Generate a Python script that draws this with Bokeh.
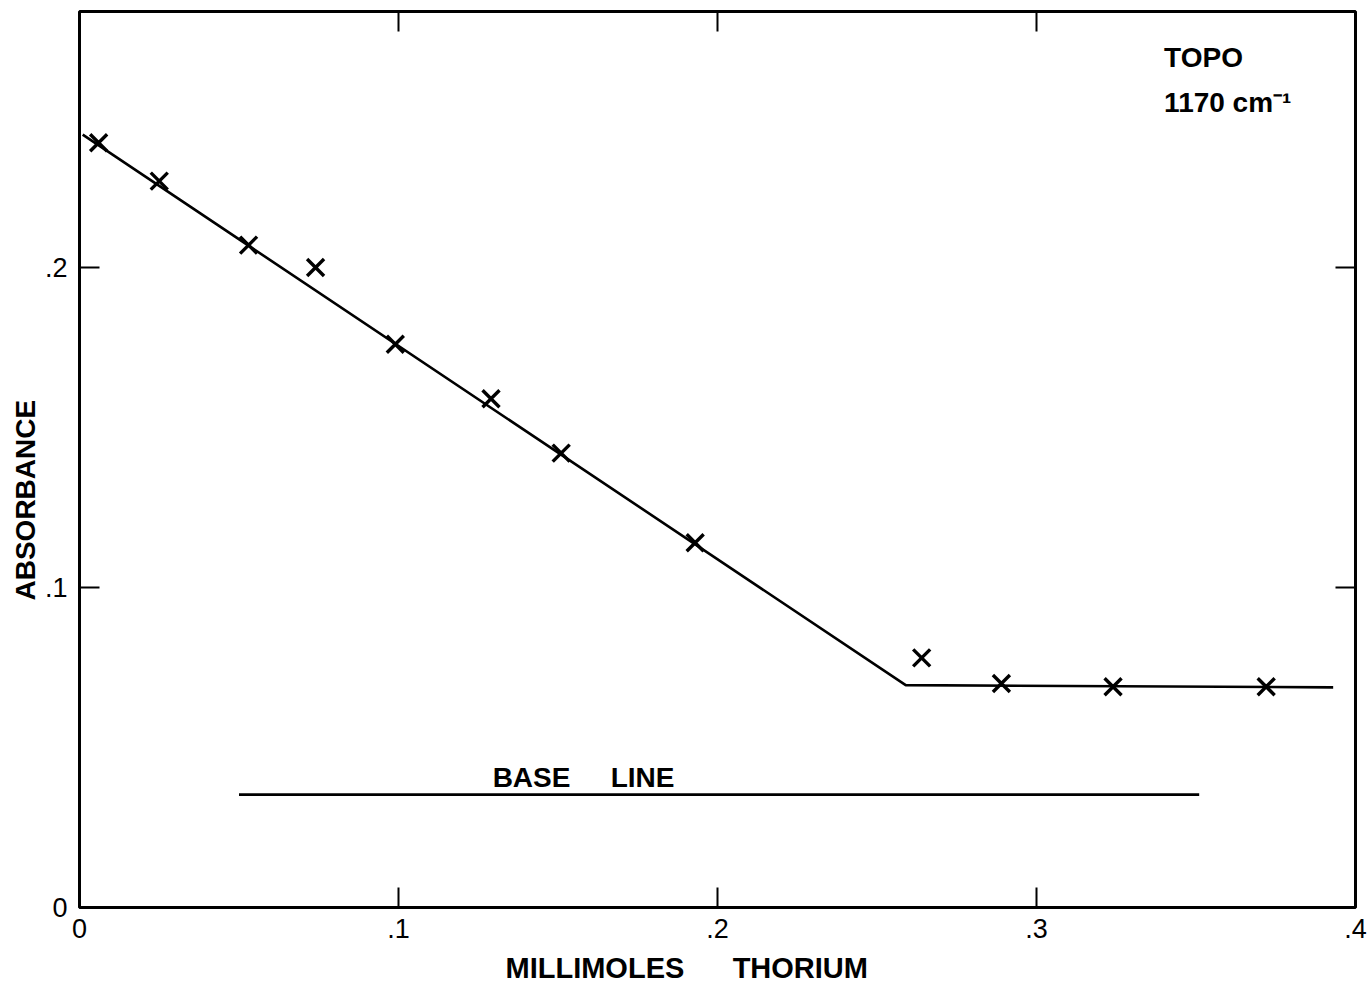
from bokeh.plotting import figure
from bokeh.models import LinearAxis, FixedTicker, Label, Title
from bokeh.embed import file_html
from bokeh.resources import INLINE

# Measured absorbance of the 1170 cm-1 band versus thorium added
thorium_mmol = [0.006, 0.025, 0.053, 0.074, 0.099, 0.129, 0.151, 0.193, 0.264, 0.289, 0.324, 0.372]
absorbance = [0.239, 0.227, 0.207, 0.200, 0.176, 0.159, 0.142, 0.114, 0.078, 0.070, 0.069, 0.069]

# Titration fit: falling branch, break point, plateau
fit_x = [0.001, 0.259, 0.393]
fit_y = [0.2415, 0.0695, 0.0688]

# Instrument base line
base_x = [0.050, 0.351]
base_y = [0.0353, 0.0353]

x_ticks = [0.0, 0.1, 0.2, 0.3, 0.4]
x_tick_labels = ["0", ".1", ".2", ".3", ".4"]
y_ticks = [0.0, 0.1, 0.2]
y_tick_labels = ["0", ".1", ".2"]

x_title = "MILLIMOLES\u00a0\u00a0\u00a0\u00a0\u00a0\u00a0THORIUM"
y_title = "ABSORBANCE"

FONT = "Liberation Sans"

p = figure(
    width=1368, height=992,
    x_range=(0.0, 0.4), y_range=(0.0, 0.28),
    output_backend="svg", toolbar_location=None,
    min_border_left=79, min_border_right=13,
    min_border_top=11, min_border_bottom=85,
    background_fill_color="white", border_fill_color="white",
)
p.grid.visible = False
p.outline_line_color = "black"
p.outline_line_width = 3

xa = p.xaxis[0]
xa.ticker = FixedTicker(ticks=x_ticks)
xa.major_label_overrides = dict(zip(x_ticks, x_tick_labels))

ya = p.yaxis[0]
ya.ticker = FixedTicker(ticks=y_ticks)
ya.major_label_overrides = dict(zip(y_ticks, y_tick_labels))

for ax in (xa, ya):
    ax.axis_line_color = None
    ax.major_tick_in = 20
    ax.major_tick_out = 0
    ax.major_tick_line_width = 2
    ax.minor_tick_line_color = None
    ax.major_label_text_font = FONT
    ax.major_label_text_font_size = "27px"
    ax.major_label_text_color = "black"

xa.major_label_standoff = 11
ya.major_label_standoff = 12

# Inward ticks on the top and right edges, without labels
top_axis = LinearAxis(ticker=FixedTicker(ticks=[0.1, 0.2, 0.3]))
right_axis = LinearAxis(ticker=FixedTicker(ticks=[0.1, 0.2]))
for ax in (top_axis, right_axis):
    ax.axis_line_color = None
    ax.major_tick_in = 20
    ax.major_tick_out = 0
    ax.major_tick_line_width = 2
    ax.minor_tick_line_color = None
    ax.major_label_text_color = None
    ax.major_label_standoff = 0
p.add_layout(top_axis, "above")
p.add_layout(right_axis, "right")

# Axis titles, offset along the frame edge
p.add_layout(Title(text=x_title, align="left", offset=426, standoff=18,
                   text_font=FONT, text_font_size="29px", text_font_style="bold",
                   text_color="black"), "below")
p.add_layout(Title(text=y_title, align="left", offset=307, standoff=2,
                   text_font=FONT, text_font_size="28px", text_font_style="bold",
                   text_color="black"), "left")

p.line(fit_x, fit_y, line_color="black", line_width=2.6)
p.line(base_x, base_y, line_color="black", line_width=2.8)
p.scatter(thorium_mmol, absorbance, marker="x", size=24,
          line_color="black", line_width=3.4)


def add_text(x, y, text, align="center"):
    p.add_layout(Label(x=x, y=y, text=text, text_align=align,
                       text_baseline="middle", text_font=FONT,
                       text_font_size="28px", text_font_style="bold",
                       text_color="black"))


add_text(0.1417, 0.0405, "BASE")
add_text(0.1765, 0.0405, "LINE")
add_text(0.3400, 0.2655, "TOPO", align="left")
add_text(0.3400, 0.2515, "1170 cm\u207b\u00b9", align="left")

open("out.html", "w").write(file_html(p, INLINE))
